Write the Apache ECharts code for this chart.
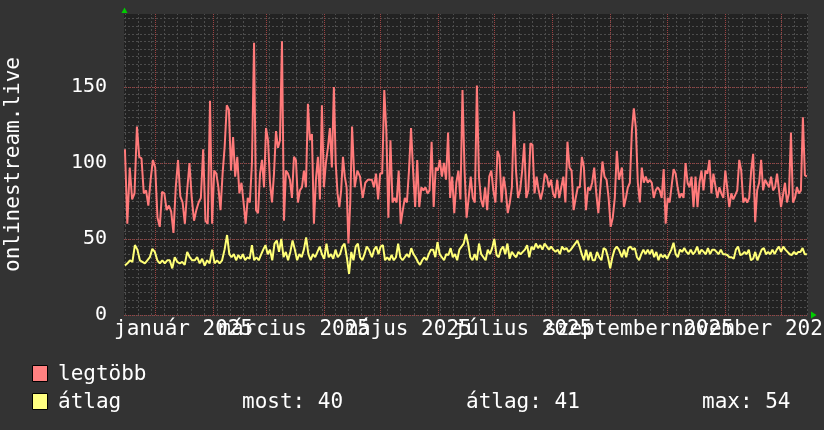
<!DOCTYPE html>
<html>
<head>
<meta charset="utf-8">
<script src="https://cdn.jsdelivr.net/npm/echarts@6/dist/echarts.min.js"></script>
<style>html,body{margin:0;padding:0;background:#333333;}#c{width:824px;height:430px;}</style>
</head>
<body>
<div id="c"></div>
<script>
// ---- data, days counted from 1 Jan 2025 ----
const seriesNames = ['legtöbb', 'átlag'];
const seriesColors = ['#ff8080', '#ffff80'];
const statTexts = ['most: 40', 'átlag: 41', 'max: 54'];
const yAxisTitle = 'onlinestream.live';
const xLabelDays = [15, 74, 135, 196, 258, 319];
const xLabelTexts = ['január 2025', 'március 2025', 'május 2025', 'július 2025', 'szeptember 2025', 'november 2025'];
const monthStartDays = [0, 31, 59, 90, 120, 151, 181, 212, 243, 273, 304, 334];
const yLabelValues = [0, 50, 100, 150];

const redA = [109,60,97,76,80,124,104,103,80,82,72,89,102,97,64,58,81,80,69,72,68,54,84,102,78,74,60,82,100,77,62,69,74,77,109,62,60,141,60,95,93,84,69,93,111,138,135,95,117,91,104,80,87,74,60,77,74,100,179,69,67,93,102,84,123,115,87,74,93,121,110,115,180,62,95,93,89,77,104,102,74,82,84,95,84,139,115,119,60,89,104,76,138,84,100,110,123,97,150,100,80,71,82,104,91,84,47,74,124,84,95,91,77,87,89];
const redB = [89,84,93,76,93,93,148,121,64,115,74,77,74,95,60,69,77,74,95,123,95,71,102,71,84,82,84,80,82,114,71,97,95,102,91,100,89,120,77,91,67,87,95,76,148,95,64,77,91,77,74,151,91,76,71,84,69,91,95,82,74,108,104,74,91,82,67,74,84,134,95,77,82,95,113,77,82,113,112,80,91,82,76,82,93,91,84,89,80,77,89,77,84,91,74,114,97,95,69,77,84,84,104,97,69,84,82,87,97,80,67,84,101,91,89,77,58,64,77,108,89];
const redC = [97,71,77,84,87,121,136,123,87,74,97,87,91,87,89,87,77,82,84,82,77,96,60,77,74,74,96,93,84,77,80,77,100,87,84,91,71,91,71,87,95,82,95,93,102,80,93,93,77,84,80,77,95,95,71,80,76,77,82,102,95,74,77,74,77,95,106,61,82,87,102,82,89,89,84,91,82,84,93,82,71,71,87,74,80,120,74,77,84,80,82,130,92,91];
const redAnchorsA = [[0, -16.3], [5, -9.9], [37, 29.1], [58, 52.6], [72, 67.5], [98, 95.2], [108, 104.9], [114, 113.4]];
const redAnchorsB = [[0, 115.5], [120, 247.3]];
const redAnchorsC = [[0, 248.9], [93, 347.6]];

const yelA = [32.5,34,36,35,46,43,36,35,34,36,38,43.5,41.5,36,34,36,34,36,36,30.7,38,35,34,35,33,41.5,38,36,36,38,34,37,32.5,36,34,43,34,36,34,36,43,52.6,40,38,40,36,39.5,37,40,36,38,37,46,36,38,36,39.5,43,46,40,43,36,47,49,41.5,50,38,41.5,36,41.5,49,43,36,40,38,43,51,40,36,40,38,41.5,45,40,37,47,38,40,37,43,38,40,45,47,38,27,41.5,36,45,47,38,36,40,45,43];
const yelB = [38,43,45,40,45,46,36,38,36,39.5,36,38,47,38,36,38,40,38,44,40,38,35,33,36,38,36,40,43,43,38,48,40,38,36,40,39.5,44,38,40,36,43,45,47,53.3,47,38,36,40,36,47,40,38,36,43,40,44,50,39.5,38,43,45,40,47,37,41.5,39.5,38,41.5,40,41.5,43,46,38,45,43,47,44,46,43,47,45,43,45,43,41.5,43,40,45,43,44,41.5,43,45,47,49,45,40,36,43,36,41.5,36,36,41.5,38,36,44,43,38,30.7,38,43,45,43];
const yelC = [38,43,38,44,45,43,44,38,36,40,43,40,43,40,43,38,41.5,36,40,38,39.5,37,40,43,47.5,40,38,43,41.5,44,41.5,40,43,40,41.5,45,40,43,41.5,40,44,40,43,43,41.5,40,43,40,40,39.5,38,38,37,43,45,39.5,40,41.5,40,43,36,37,41.5,36,39.5,43,44,40,41.5,40,43,40,43,45,41.5,45,43,41.5,40,39.5,41.5,40,41.5,41.5,44,40,40];
const yelAnchorsA = [[0, -16.3], [41, 38.2], [95, 103.3], [104, 113.9]];
const yelAnchorsB = [[0, 115.5], [113, 247.3]];
const yelAnchorsC = [[0, 248.9], [86, 347.6]];

// ---- build ----
function dayOf(i, anchors) {
  for (let k = 0; k < anchors.length - 1; k++) {
    const a = anchors[k], b = anchors[k + 1];
    if (i <= b[0]) return a[1] + (i - a[0]) * (b[1] - a[1]) / (b[0] - a[0]);
  }
  return anchors[anchors.length - 1][1];
}
function seg(vals, anchors) { return vals.map((v, i) => [dayOf(i, anchors), v]); }
const redData = [].concat(seg(redA, redAnchorsA), seg(redB, redAnchorsB), seg(redC, redAnchorsC));
const yelData = [].concat(seg(yelA, yelAnchorsA), seg(yelB, yelAnchorsB), seg(yelC, yelAnchorsC));

const X_MIN = -16.8, X_MAX = 348.2, Y_MAX = 198;
const mondays = [];
for (let d = -16; d <= X_MAX; d += 7) mondays.push(d);
const minorY = [];
for (let v = 0; v <= 195; v += 5) minorY.push(v);

const FONT = 'DejaVu Sans Mono';
const FONT_CSS = '21px "DejaVu Sans Mono"';
const MINOR_COLOR = '#4d4d4d', MAJOR_COLOR = '#9c4242';
const minorLine = { color: MINOR_COLOR, width: 1, type: [2, 2] };
const majorLine = { color: MAJOR_COLOR, width: 1, type: [1, 1] };

function vLineSeries(days, color, dash, z) {
  return {
    type: 'custom', silent: true, z: z, clip: false,
    data: days.map(d => [d, 0]),
    encode: { x: 0, y: 1 },
    renderItem: (params, api) => {
      const p0 = api.coord([api.value(0), 0]);
      const p1 = api.coord([api.value(0), Y_MAX]);
      const x = Math.floor(p0[0]) + 0.5;
      return { type: 'line', shape: { x1: x, y1: Math.round(p0[1]), x2: x, y2: Math.round(p1[1]) },
        style: { stroke: color, lineWidth: 1, lineDash: dash } };
    }
  };
}

// legend + stats drawn as graphic elements
const graphics = [
  { type: 'polygon', shape: { points: [[121.5, 13], [127.5, 13], [124.5, 7.5]] }, style: { fill: '#00cc00' }, z: 100 },
  { type: 'polygon', shape: { points: [[811, 311.5], [811, 318.5], [816.5, 315]] }, style: { fill: '#00cc00' }, z: 100 }
];
seriesNames.forEach((nm, i) => {
  const top = 365 + i * 28;
  graphics.push({ type: 'rect', shape: { x: 32.5, y: top + 0.5, width: 15, height: 16 },
    style: { fill: seriesColors[i], stroke: '#000000', lineWidth: 1 }, z: 100 });
  graphics.push({ type: 'text', x: 58, y: top + 10,
    style: { text: nm, fill: '#ffffff', font: FONT_CSS, verticalAlign: 'middle' }, z: 100 });
});
[242, 466, 702].forEach((x, i) => {
  graphics.push({ type: 'text', x: x, y: 365 + 28 + 10,
    style: { text: statTexts[i], fill: '#ffffff', font: FONT_CSS, verticalAlign: 'middle' }, z: 100 });
});

const chart = echarts.init(document.getElementById('c'), null, { renderer: 'canvas' });
chart.setOption({
  backgroundColor: '#333333',
  animation: false,
  textStyle: { fontFamily: FONT },
  grid: { left: 124, top: 14, right: 16, bottom: 115, show: true, backgroundColor: '#222222', borderWidth: 0,
    containLabel: false, outerBoundsMode: 'none' },
  xAxis: { type: 'value', min: X_MIN, max: X_MAX,
    axisLine: { show: false }, axisTick: { show: false }, axisLabel: { show: false }, splitLine: { show: false } },
  yAxis: [
    { type: 'value', min: 0, max: Y_MAX,
      axisLine: { show: false }, axisTick: { show: false, customValues: minorY },
      axisLabel: { show: false }, splitLine: { show: true, lineStyle: minorLine } },
    { type: 'value', min: 0, max: Y_MAX, position: 'left',
      name: yAxisTitle, nameLocation: 'middle', nameRotate: 90, nameGap: 100,
      nameTextStyle: { color: '#ffffff', fontFamily: FONT, fontSize: 21 },
      axisLine: { show: false }, axisTick: { show: false, customValues: yLabelValues },
      axisLabel: { show: true, customValues: yLabelValues, margin: 17, color: '#ffffff', fontFamily: FONT, fontSize: 20 },
      splitLine: { show: true, lineStyle: majorLine } }
  ],
  graphic: graphics,
  series: [
    vLineSeries(mondays, MINOR_COLOR, [2, 2], 1),
    vLineSeries(monthStartDays, MAJOR_COLOR, [1, 1], 2),
    { type: 'custom', silent: true, z: 5, clip: false,
      data: xLabelDays.map((d, i) => [d, 0, i]),
      encode: { x: 0, y: 1 },
      renderItem: (params, api) => {
        const p = api.coord([api.value(0), 0]);
        return { type: 'text', x: p[0], y: p[1] + 4,
          style: { text: xLabelTexts[api.value(2)], fill: '#ffffff', font: FONT_CSS, align: 'center', verticalAlign: 'top' } };
      } },
    { name: seriesNames[0], type: 'line', data: redData, showSymbol: false,
      color: seriesColors[0], lineStyle: { color: '#ff7a7a', width: 2 }, z: 3 },
    { name: seriesNames[1], type: 'line', data: yelData, showSymbol: false,
      color: seriesColors[1], lineStyle: { color: '#ffff77', width: 2 }, z: 4 }
  ]
});
</script>
</body>
</html>
